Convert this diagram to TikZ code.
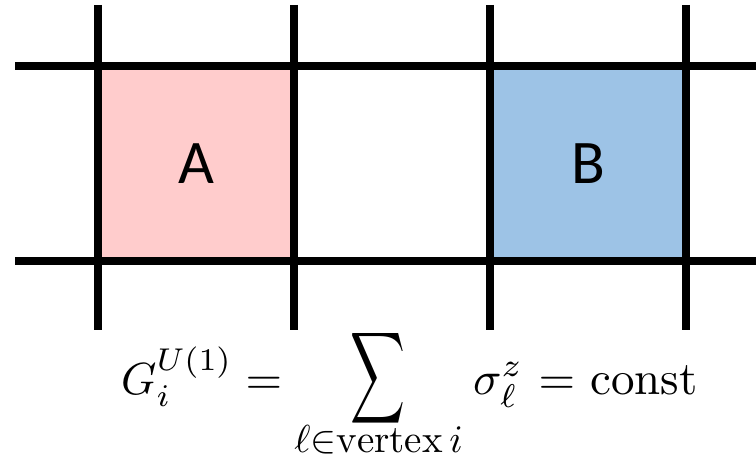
\documentclass[tikz,border=0pt]{standalone}
\usepackage{amsmath}
\usepackage{graphicx}
\usepackage{fontspec}
\newfontfamily\labfont{Carlito}
\definecolor{pinkA}{HTML}{FFCCCC}
\definecolor{blueB}{HTML}{9DC3E6}
\tikzset{
  gridline/.style={line width=7.7pt, black},
  cell/.style={minimum width=196pt, minimum height=195pt, inner sep=0pt, font=\labfont\fontsize{62}{70}\selectfont},
  mathpart/.style={inner sep=0pt},
}
\begin{document}
\begin{tikzpicture}[x=1pt,y=-1pt]
\useasboundingbox (0,0) rectangle (756,460);
% cells
\node[cell, fill=pinkA] (A) at (196,163.5) {A};
\node[cell, fill=blueB] (B) at (588,163.5) {B};
% horizontal lines
\draw[gridline] (15,66) -- (756,66);
\draw[gridline] (15,261) -- (756,261);
% vertical lines
\foreach \x in {98,294,490,686}{
  \draw[gridline] (\x,5) -- (\x,330);
}
% formula, piece by piece
\node[mathpart, anchor=base west] (G) at (121,394) {\scalebox{4.5}{$G_i^{U(1)}$}};
\node[mathpart, anchor=base] (eq1) at (264,394) {\scalebox{4.7}{$=$}};
\node[mathpart] (sum) at (377.5,378) {\scalebox{3.8}[6.4]{$\displaystyle\sum$}};
\node[mathpart, anchor=base] (lim) at (378.5,452) {\scalebox{3.9}{$\ell{\in}\mathrm{vertex}\,i$}};
\node[mathpart, anchor=base west] (sig) at (473,394) {\scalebox{4.7}{$\sigma_\ell^z$}};
\node[mathpart, anchor=base] (eq2) at (557,394) {\scalebox{4.7}{$=$}};
\node[mathpart, anchor=base west] (const) at (590,394) {\scalebox{4.7}{$\mathrm{const}$}};
\end{tikzpicture}
\end{document}
